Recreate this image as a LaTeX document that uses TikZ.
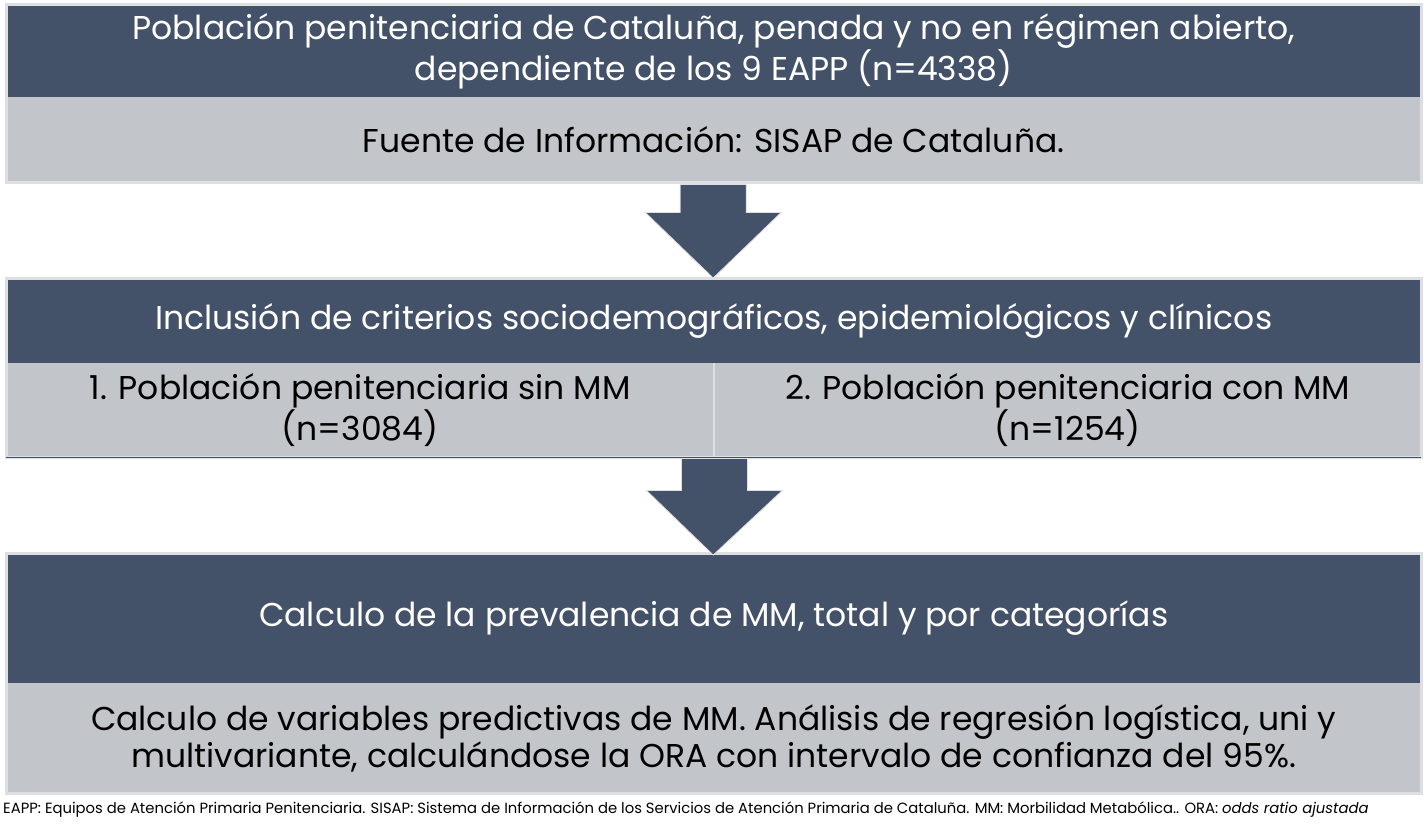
\documentclass[tikz,border=0pt]{standalone}
\usepackage{fontspec}
\setmainfont{Poppins}
\usetikzlibrary{calc}
\definecolor{darkbl}{HTML}{435269}
\definecolor{lightg}{HTML}{C2C5CA}
\definecolor{edgeg}{HTML}{DEDFE2}
\tikzset{
  x=1pt,y=-1pt,
  darkpart/.style={fill=darkbl,text=white,anchor=north west,inner sep=0pt,align=center,font=\fontsize{33}{37}\selectfont},
  lightpart/.style={fill=lightg,text=black,anchor=north west,inner sep=0pt,align=center,font=\fontsize{33}{37}\selectfont},
  frame/.style={draw=edgeg,line width=3pt},
  downarrow/.style={fill=darkbl,draw=edgeg,line width=0.8pt},
}
\begin{document}
\begin{tikzpicture}
\useasboundingbox[fill=white] (0,0) rectangle (1424,824);
% box 1
\node[darkpart,minimum width=1415pt,minimum height=92pt] (d1) at (6,5) {Población penitenciaria de Cataluña, penada y no en régimen abierto,\\dependiente de los 9 EAPP (n=4338)};
\node[lightpart,minimum width=1415pt,minimum height=85pt] (l1) at (6,97) {Fuente de Información: SISAP de Cataluña.};
\draw[frame] (d1.north west) rectangle (l1.south east);
% box 2
\node[darkpart,minimum width=1415pt,minimum height=85pt] (d2) at (6,278) {Inclusión de criterios sociodemográficos, epidemiológicos y clínicos};
\node[lightpart,minimum width=708pt,minimum height=94pt] (l2a) at (6,363) {1. Población penitenciaria sin MM\\(n=3084)};
\node[lightpart,minimum width=707pt,minimum height=94pt] (l2b) at (714,363) {2. Población penitenciaria con MM\\(n=1254)};
\draw[edgeg,line width=2pt] (l2a.north east) -- (l2a.south east);
\draw[frame] (d2.north west) rectangle (l2b.south east);
\draw[darkbl,line width=1.2pt] (l2a.south west) -- (l2b.south east);
% box 3
\node[darkpart,minimum width=1415pt,minimum height=130pt] (d3) at (6,553) {Calculo de la prevalencia de MM, total y por categorías};
\node[lightpart,minimum width=1415pt,minimum height=110pt] (l3) at (6,683) {Calculo de variables predictivas de MM. Análisis de regresión logística, uni y\\multivariante, calculándose la ORA con intervalo de confianza del 95\%.};
\draw[frame] (d3.north west) rectangle (l3.south east);
% arrows
\coordinate (a1s) at ($(l1.south)+(-0.5,2)$);
\coordinate (a1t) at ($(d2.north)+(-0.5,0)$);
\fill[downarrow] ($(a1s)+(-33,0)$) -- ($(a1s)+(33,0)$) -- ($(a1s)+(33,28)$) -- ($(a1s)+(68,28)$) -- (a1t) -- ($(a1s)+(-68,28)$) -- ($(a1s)+(-33,28)$) -- cycle;
\coordinate (a2s) at ($(l2a.south east)+(0,1)$);
\coordinate (a2t) at ($(d3.north)+(-0.5,2)$);
\fill[downarrow] ($(a2s)+(-33,0)$) -- ($(a2s)+(33,0)$) -- ($(a2s)+(33,32)$) -- ($(a2s)+(68,32)$) -- (a2t) -- ($(a2s)+(-68,32)$) -- ($(a2s)+(-33,32)$) -- cycle;
% footnote
\node[anchor=west,inner sep=0pt,font=\fontsize{14.8}{16}\selectfont] (fn) at (3,810) {EAPP: Equipos de Atención Primaria Penitenciaria. SISAP: Sistema de Información de los Servicios de Atención Primaria de Cataluña. MM: Morbilidad Metabólica.. ORA: \textit{odds ratio ajustada}};
\end{tikzpicture}
\end{document}
